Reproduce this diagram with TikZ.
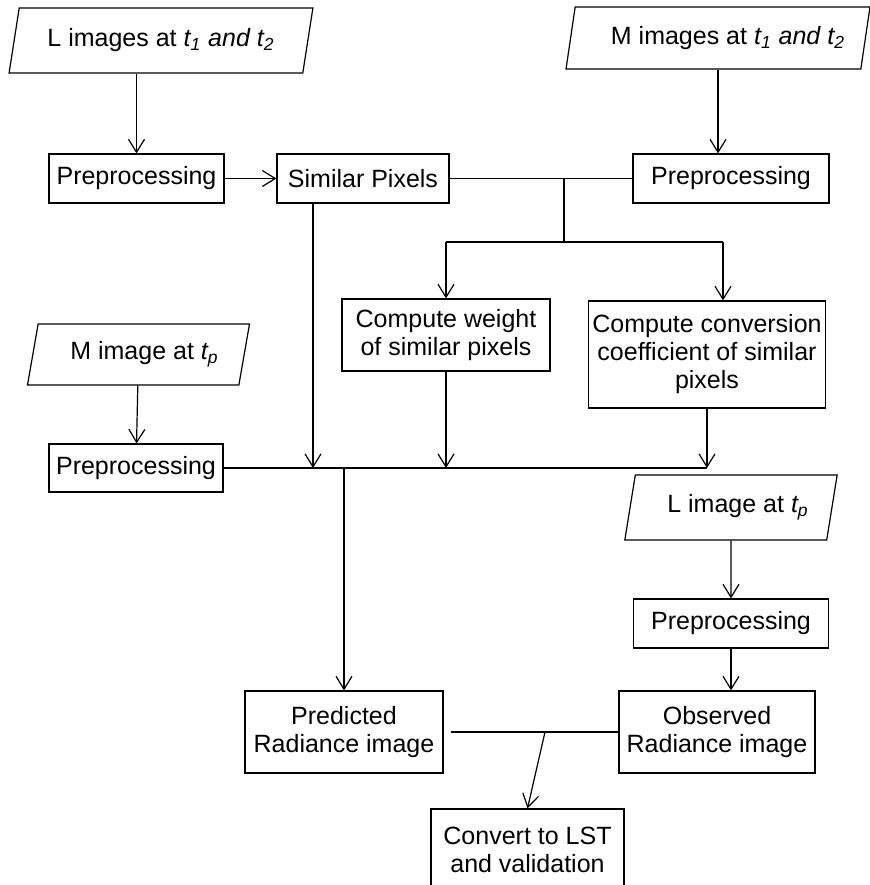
\documentclass[tikz,border=0pt]{standalone}
\usepackage{fontspec}
\setmainfont{Liberation Sans}
\usetikzlibrary{arrows.meta, shapes.geometric}

\tikzset{
    box/.style={draw, line width=0.6pt, align=center, inner sep=2pt, font=\fontsize{12.5}{14}\selectfont},
    data/.style={box, trapezium, trapezium left angle=75, trapezium right angle=105, trapezium stretches=true},
    flow/.style={line width=0.6pt, -{Straight Barb[length=6.5pt, width=8pt]}},
    link/.style={line width=0.6pt}
}

\begin{document}
\begin{tikzpicture}[x=0.5pt, y=-0.5pt]
        \useasboundingbox (0, 0) rectangle (869, 885);

        % input images
        \node[data, minimum width=152pt, minimum height=32.5pt] (limg) at (161, 40.5) {L images at \textit{t\textsubscript{1} and t\textsubscript{2}}};
        \node[data, minimum width=152pt, minimum height=31pt] (mimg) at (718, 38) {\hspace*{10pt}M images at \textit{t\textsubscript{1} and t\textsubscript{2}}};
        \node[data, minimum width=111.5pt, minimum height=30.5pt] (mimgp) at (138.5, 354.5) {\hspace*{6pt}M image at \textit{t\textsubscript{p}}};
        \node[data, minimum width=106.5pt, minimum height=32.5pt] (limgp) at (731, 507.5) {\hspace*{7pt}L image at \textit{t\textsubscript{p}}};

        % processing steps
        \node[box, minimum width=87.5pt, minimum height=24.5pt] (pre1) at (136.5, 178.5) {Preprocessing};
        \node[box, minimum width=86pt, minimum height=24.5pt] (sim) at (363, 178.5) {Similar Pixels};
        \node[box, minimum width=98pt, minimum height=24.5pt] (pre2) at (731, 178.5) {Preprocessing};
        \node[box, minimum width=104pt, minimum height=36pt] (weight) at (446, 335) {Compute weight\\of similar pixels};
        \node[box, minimum width=115pt, minimum height=53.5pt] (coef) at (707, 354.5) {Compute conversion\\coefficient of similar\\pixels};
        \node[box, minimum width=87pt, minimum height=24pt] (pre3) at (136, 468) {Preprocessing};
        \node[box, minimum width=97.5pt, minimum height=24.5pt] (pre4) at (731, 623.5) {Preprocessing};
        \node[box, minimum width=99pt, minimum height=41pt] (pred) at (344, 732) {Predicted\\Radiance image};
        \node[box, minimum width=98pt, minimum height=41pt] (obs) at (717, 732) {Observed\\Radiance image};
        \node[box, minimum width=96.5pt, minimum height=41pt] (lst) at (527.5, 850) {Convert to LST\\and validation};

        \coordinate (split) at (564, 242);
        \coordinate (wtop) at (446, 242);
        \coordinate (ctop) at (723, 242);
        \coordinate (join) at (545, 732);

        % top part
        \draw[flow] (pre1.north |- limg.south) -- (pre1.north);
        \draw[flow] (mimg.south) -- (mimg.south |- pre2.north);
        \draw[flow] (pre1) -- (sim);
        \draw[link] (sim) -- (pre2);
        \draw[link] (split |- sim.east) -- (split);
        \draw[link] (wtop) -- (ctop);
        \draw[flow] (wtop) -- (weight.north);
        \draw[flow] (ctop) -- (ctop |- coef.north);

        % collecting line
        \draw[flow] (mimgp) -- (pre3);
        \draw[link] (pre3) -- (coef.south |- pre3.east);
        \draw[flow] ([xshift=-25pt]sim.south) -- ([xshift=-25pt]sim.south |- pre3.east);
        \draw[flow] (weight.south) -- (weight.south |- pre3.east);
        \draw[flow] (coef.south) -- (coef.south |- pre3.east);
        \draw[flow] (pred.north |- pre3.east) -- (pred.north);

        % bottom part
        \draw[flow] (limgp) -- (pre4);
        \draw[flow] (pre4.south) -- (pre4.south |- obs.north);
        \draw[link, shorten <=3.5pt] (pred) -- (obs);
        \draw[flow] (join) -- (lst.north);
    \end{tikzpicture}
\end{document}
